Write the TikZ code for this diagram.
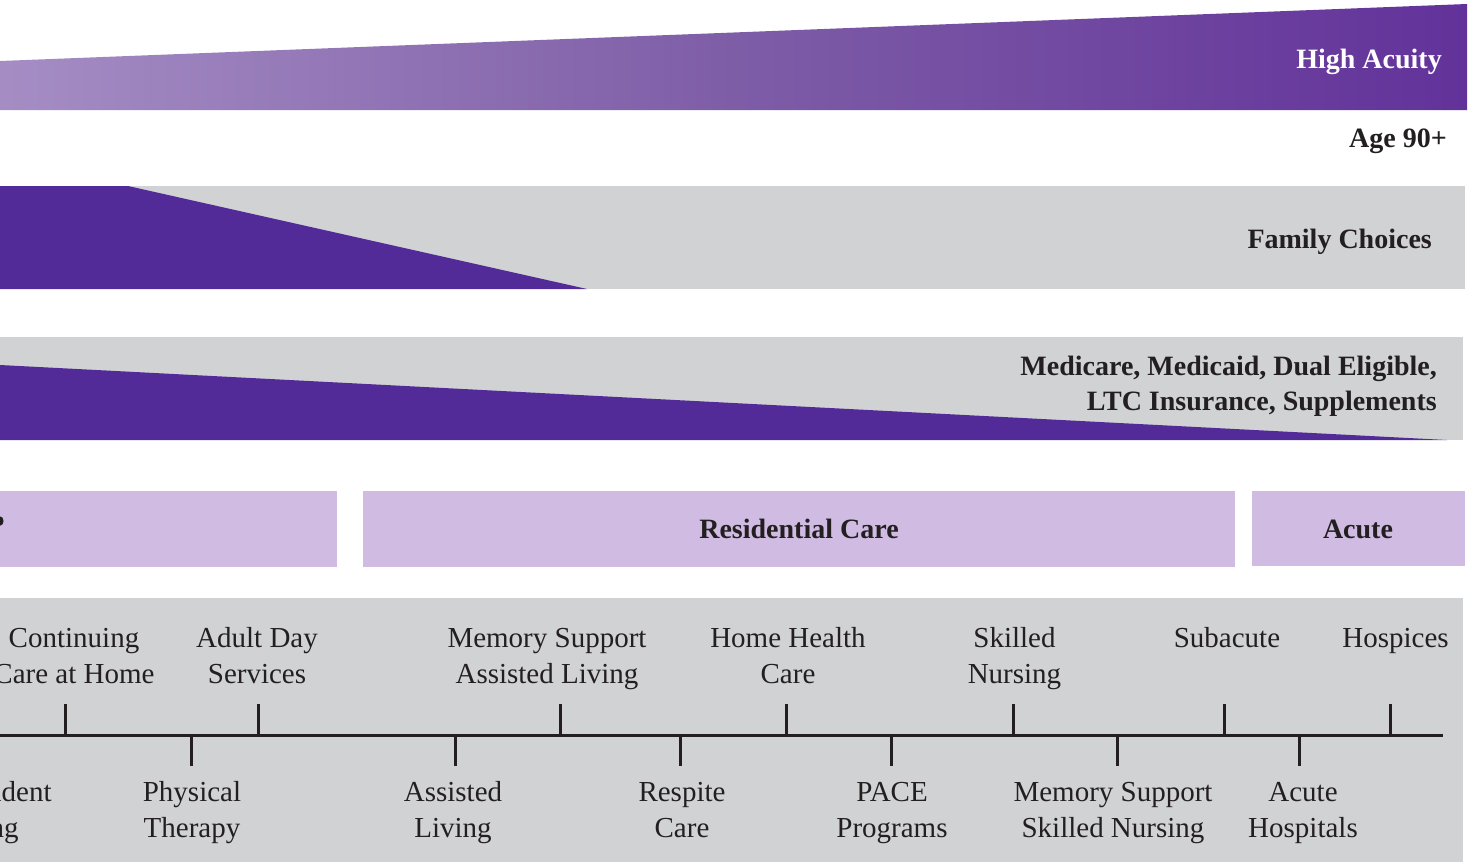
\documentclass[tikz,border=0pt]{standalone}
\usepackage{fontspec}
\setmainfont{Liberation Serif}
\definecolor{deepPurple}{HTML}{532B99}
\definecolor{bandGray}{HTML}{D1D2D4}
\definecolor{lavender}{HTML}{D0BBE2}
\definecolor{gradLeft}{HTML}{A58DC4}
\definecolor{gradMid}{HTML}{7E5DA7}
\definecolor{gradRight}{HTML}{62329A}
\definecolor{ink}{HTML}{231F20}
\newcommand\lblfont{\fontsize{29}{36}\selectfont}
\newcommand\hdfont{\fontsize{28}{35}\selectfont\bfseries}
\begin{document}
\begin{tikzpicture}[x=1pt,y=-1pt,
  lbl/.style={inner sep=0pt,anchor=base,text=ink,font=\lblfont},
  hd/.style={inner sep=0pt,text=ink,font=\hdfont},
  axisline/.style={draw=ink,line width=3pt},
  tick/.style={draw=ink,line width=3pt}]
\useasboundingbox (0,0) rectangle (1469,862);
\clip (0,0) rectangle (1469,862);
% band 1: high acuity gradient wedge
\shade[left color=gradLeft,right color=gradRight,middle color=gradMid]
  (0,61) -- (1467,4) -- (1467,110) -- (0,110) -- cycle;
\node[hd,text=white,anchor=base east] (acuity) at (1442,68) {High Acuity};
% age
\node[hd,anchor=base east] (age) at (1447,147) {Age 90+};
% band 2: family choices
\fill[bandGray] (0,186) rectangle (1465,289);
\fill[deepPurple] (0,186) -- (128,186) -- (587,289) -- (0,289) -- cycle;
\node[hd,anchor=base east] (family) at (1432,248) {Family Choices};
% band 3: payers
\fill[bandGray] (0,337) rectangle (1463,440);
\fill[deepPurple] (0,365) -- (1447,440) -- (0,440) -- cycle;
\node[hd,anchor=base east] (payers) at (1437,375)
  {\begin{tabular}[t]{@{}r@{}}Medicare, Medicaid, Dual Eligible,\\LTC Insurance, Supplements\end{tabular}};
% category boxes
\fill[lavender] (0,491) rectangle (337,567);
\fill[ink] (0.5,521) ellipse (3 and 4.5);
\fill[lavender] (363,491) rectangle (1235,567);
\fill[lavender] (1252,491) rectangle (1465,566);
\node[hd,anchor=base] (residential) at (799,538) {Residential Care};
\node[hd,anchor=base] (acute) at (1358,538) {Acute};
% bottom panel
\fill[bandGray] (0,598) rectangle (1463,862);
% timeline
\coordinate (tlStart) at (0,735);
\coordinate (tlEnd) at (1443,735);
\draw[axisline] (tlStart) -- (tlEnd);
\foreach \x [count=\i] in {65,258,560,786,1013,1224,1390}{
  \coordinate (up\i) at (\x,735);
  \draw[tick] (up\i) -- ++(0,-31);
}
\foreach \x [count=\i] in {191,455,680,891,1117,1299}{
  \coordinate (dn\i) at (\x,735);
  \draw[tick] (dn\i) -- ++(0,31);
}
% top labels
\node[lbl] (ccah) at (74,647) {\begin{tabular}[t]{@{}c@{}}Continuing\\Care at Home\end{tabular}};
\node[lbl] (ads) at (257,647) {\begin{tabular}[t]{@{}c@{}}Adult Day\\Services\end{tabular}};
\node[lbl] (msal) at (547,647) {\begin{tabular}[t]{@{}c@{}}Memory Support\\Assisted Living\end{tabular}};
\node[lbl] (hhc) at (788,647) {\begin{tabular}[t]{@{}c@{}}Home Health\\Care\end{tabular}};
\node[lbl] (sn) at (1014.5,647) {\begin{tabular}[t]{@{}c@{}}Skilled\\Nursing\end{tabular}};
\node[lbl] (sub) at (1227,647) {Subacute};
\node[lbl] (hosp) at (1395.5,647) {Hospices};
% bottom labels
\node[lbl] (il) at (-20,801) {\begin{tabular}[t]{@{}c@{}}Independent\\Living\end{tabular}};
\node[lbl] (pt) at (192,801) {\begin{tabular}[t]{@{}c@{}}Physical\\Therapy\end{tabular}};
\node[lbl] (al) at (453,801) {\begin{tabular}[t]{@{}c@{}}Assisted\\Living\end{tabular}};
\node[lbl] (rc) at (682,801) {\begin{tabular}[t]{@{}c@{}}Respite\\Care\end{tabular}};
\node[lbl] (pace) at (892,801) {\begin{tabular}[t]{@{}c@{}}PACE\\Programs\end{tabular}};
\node[lbl] (mssn) at (1113,801) {\begin{tabular}[t]{@{}c@{}}Memory Support\\Skilled Nursing\end{tabular}};
\node[lbl] (ah) at (1303,801) {\begin{tabular}[t]{@{}c@{}}Acute\\Hospitals\end{tabular}};
\end{tikzpicture}
\end{document}
